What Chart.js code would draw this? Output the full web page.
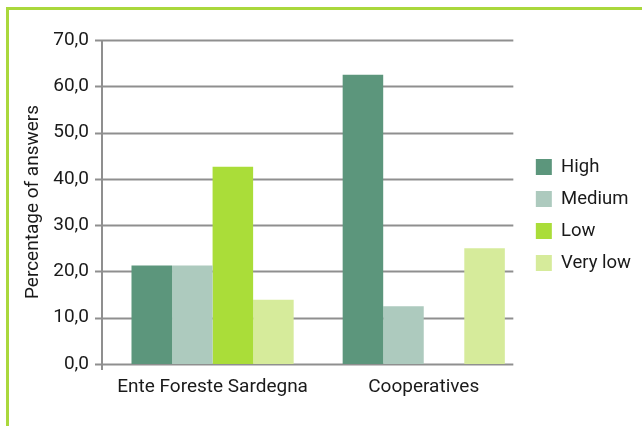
<!DOCTYPE html>
<html>
<head>
<meta charset="utf-8">
<script src="https://cdn.jsdelivr.net/npm/chart.js@4.4.1/dist/chart.umd.min.js"></script>
<style>
  html, body { margin: 0; padding: 0; background: #fff; }
  .wrap { position: relative; width: 642px; height: 426px; overflow: hidden; }
  .frame { position: absolute; left: 6px; top: 7px; right: -10px; bottom: -10px;
           border-left: 3px solid #aad83c; border-top: 3px solid #aad83c; }
  canvas { position: absolute; left: 0; top: 0; }
</style>
</head>
<body>
<div class="wrap">
  <div class="frame"></div>
  <canvas id="chart" width="642" height="426"></canvas>
</div>
<script>
  // answers per group, in percent
  const groups = ["Ente Foreste Sardegna", "Cooperatives"];
  const levels = ["High", "Medium", "Low", "Very low"];
  const high = [21.3, 62.5];
  const medium = [21.3, 12.5];
  const low = [42.6, 0];
  const veryLow = [13.9, 25.0];
  const colors = ["#5c967c", "#adcabe", "#aadd39", "#d6eb9b"];

  const font = "Roboto, sans-serif";
  const ink = "#1a1a1a";

  // grid lines are drawn by hand so they can start a bit left of the plot
  const gridPlugin = {
    id: "grid",
    afterLayout(chart) {
      // nudge the legend up and closer to the plot
      const lg = chart.legend;
      lg.left -= 7;
      lg.right -= 7;
      lg.top -= 18;
      lg.bottom -= 18;
    },
    beforeDatasetsDraw(chart) {
      const { ctx, chartArea } = chart;
      const y = chart.scales.y;
      const axisX = chartArea.left - 5;
      ctx.save();
      ctx.strokeStyle = "#8f8f8f";
      ctx.lineWidth = 2;
      y.ticks.forEach(t => {
        const py = Math.round(y.getPixelForValue(t.value)) + 0.5;
        ctx.beginPath();
        ctx.moveTo(axisX - 7, py);
        ctx.lineTo(chartArea.right - 16, py);
        ctx.stroke();
      });
      ctx.beginPath();
      ctx.moveTo(axisX, chartArea.top);
      ctx.lineTo(axisX, chartArea.bottom + 6);
      ctx.stroke();
      ctx.restore();
    }
  };

  new Chart(document.getElementById("chart"), {
    type: "bar",
    data: {
      labels: groups,
      datasets: [
        { label: levels[0], data: high, backgroundColor: colors[0] },
        { label: levels[1], data: medium, backgroundColor: colors[1] },
        { label: levels[2], data: low, backgroundColor: colors[2] },
        { label: levels[3], data: veryLow, backgroundColor: colors[3] },
      ],
    },
    options: {
      responsive: false,
      animation: false,
      categoryPercentage: 0.768,
      barPercentage: 1,
      layout: { padding: { top: 40, right: -6, bottom: 0, left: 0 } },
      plugins: {
        tooltip: { enabled: false },
        legend: {
          position: "right",
          labels: {
            boxWidth: 16,
            boxHeight: 16,
            padding: 13.5,
            color: ink,
            font: { family: font, size: 18.5 },
          },
        },
      },
      scales: {
        x: {
          grid: { display: false, drawTicks: false },
          border: { display: false },
          ticks: { color: ink, padding: 12, font: { family: font, size: 19 } },
          afterFit(scale) { scale.height = 62; },
        },
        y: {
          min: 0,
          max: 70,
          grid: { display: false, drawTicks: false },
          border: { display: false },
          ticks: {
            stepSize: 10,
            padding: 18,
            color: ink,
            font: { family: font, size: 19 },
            callback: v => v.toFixed(1).replace(".", ","),
          },
          title: {
            display: true,
            text: "Percentage of answers",
            color: ink,
            padding: { top: 22, bottom: 4 },
            font: { family: font, size: 19 },
          },
          afterFit(scale) { scale.width = 107; },
        },
      },
    },
    plugins: [gridPlugin],
  });
</script>
</body>
</html>
